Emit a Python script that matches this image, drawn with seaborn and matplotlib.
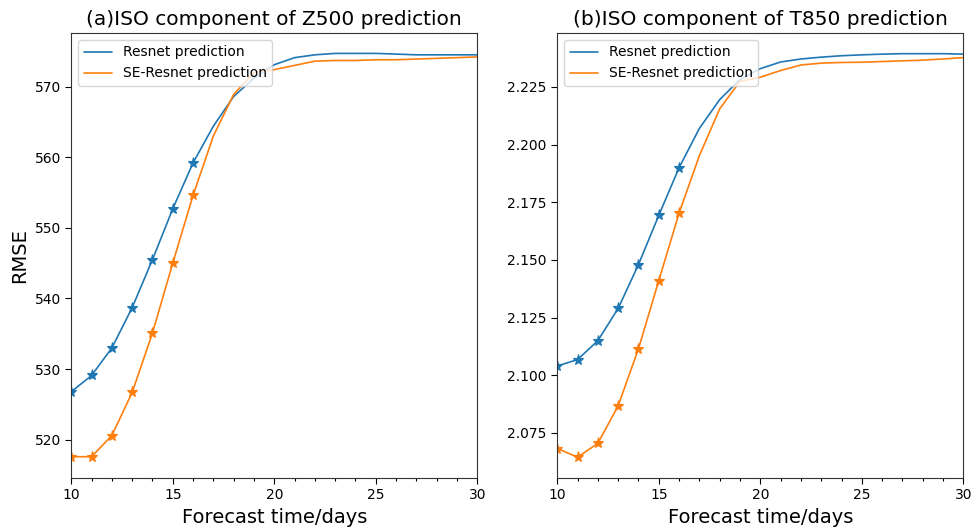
import numpy as np
import pandas as pd
import matplotlib
matplotlib.use("Agg")
import matplotlib.pyplot as plt
import seaborn as sns
from matplotlib.ticker import MultipleLocator, FormatStrFormatter

sns.set_style("ticks")
plt.rcParams['font.family'] = ['DejaVu Sans']
plt.rcParams['text.color'] = 'black'
plt.rcParams['axes.labelcolor'] = 'black'
plt.rcParams['xtick.color'] = 'black'
plt.rcParams['ytick.color'] = 'black'

days = list(range(10, 31))

# Z500 RMSE
z500_resnet = [526.8, 529.1, 533.0, 538.7, 545.5, 552.7, 559.2, 564.4, 568.6, 571.2,
               573.1, 574.1, 574.5, 574.7, 574.7, 574.7, 574.6, 574.5, 574.5, 574.5, 574.5]
z500_se = [517.6, 517.6, 520.6, 526.7, 535.1, 545.0, 554.6, 563.0, 568.9, 572.0,
           572.4, 573.0, 573.6, 573.7, 573.7, 573.8, 573.8, 573.9, 574.0, 574.1, 574.2]

# T850 RMSE
t850_resnet = [2.1040, 2.1068, 2.1150, 2.1290, 2.1480, 2.1693, 2.1900, 2.2070, 2.2195, 2.2282,
               2.2329, 2.2358, 2.2371, 2.2379, 2.2385, 2.2389, 2.2392, 2.2394, 2.2394, 2.2394, 2.2392]
t850_se = [2.0682, 2.0645, 2.0705, 2.0868, 2.1115, 2.1410, 2.1703, 2.1952, 2.2155, 2.2274,
           2.2292, 2.2321, 2.2345, 2.2353, 2.2356, 2.2357, 2.2360, 2.2363, 2.2366, 2.2371, 2.2377]

labels = ['Resnet prediction', 'SE-Resnet prediction']
titles = ['(a)ISO component of Z500 prediction', '(b)ISO component of T850 prediction']
n_marked = 7  # stars on days 10-16

fig, axes = plt.subplots(1, 2, figsize=(9.76, 5.31), dpi=100)
fig.subplots_adjust(left=0.073, right=0.987, bottom=0.1, top=0.938, wspace=0.197)

panels = [(z500_resnet, z500_se, (514.6, 577.6)),
          (t850_resnet, t850_se, (2.0555, 2.2484))]

for ax, (res, se, ylim), title in zip(axes, panels, titles):
    df = pd.DataFrame({
        'day': days * 2,
        'rmse': res + se,
        'model': [labels[0]] * len(days) + [labels[1]] * len(days),
    })
    for lab, color in zip(labels, ['#1f77b4', '#ff7f0e']):
        sub = df[df['model'] == lab]
        sns.lineplot(data=sub, x='day', y='rmse', ax=ax, color=color, label=lab,
                     linewidth=1.2, marker='*', markersize=8, markevery=list(range(n_marked)),
                     markeredgewidth=0.8, markeredgecolor=color, markerfacecolor=color)
    ax.set_xlim(10, 30)
    ax.set_ylim(*ylim)
    ax.xaxis.set_major_locator(MultipleLocator(5))
    ax.xaxis.set_minor_locator(MultipleLocator(1))
    ax.tick_params(axis='both', which='major', labelsize=10, direction='out', length=4)
    ax.tick_params(axis='x', which='minor', direction='out', length=2.5, width=0.8)
    ax.set_title(title, fontsize=14.5)
    ax.set_xlabel('Forecast time/days', fontsize=14)
    ax.set_ylabel('')
    for s in ax.spines.values():
        s.set_visible(True)
        s.set_color('#333333')
    leg = ax.legend(loc='upper left', fontsize=10, frameon=True)
    for h in leg.get_lines():
        h.set_marker('')

axes[0].yaxis.set_major_locator(MultipleLocator(10))
axes[1].yaxis.set_major_locator(MultipleLocator(0.025))
axes[1].yaxis.set_major_formatter(FormatStrFormatter('%.3f'))
axes[0].set_ylabel('RMSE', fontsize=14)

fig.savefig('out.png', dpi=100)
